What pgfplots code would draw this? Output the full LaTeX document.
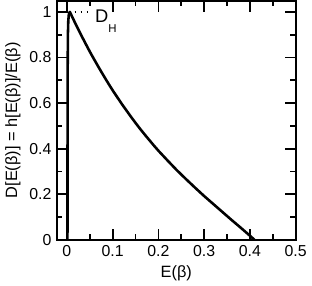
\documentclass[border=0pt]{standalone}
\usepackage{fontspec}
\setmainfont{Liberation Sans}
\usepackage{pgfplots}
\pgfplotsset{compat=1.18}
\begin{document}
\fontsize{16}{19}\selectfont
\begin{tikzpicture}
\begin{axis}[
  scale only axis, width=241pt, height=241pt,
  xmin=-0.022, xmax=0.5, ymin=0, ymax=1.048,
  xtick={0,0.1,0.2,0.3,0.4,0.5},
  ytick={0,0.2,0.4,0.6,0.8,1},
  minor x tick num=1, minor y tick num=1,
  tick align=inside,
  major tick length=11pt, minor tick length=5.5pt,
  axis line style={line width=2pt},
  every tick/.style={line width=1.8pt, black},
  tick label style={font=\fontsize{16}{19}\selectfont},
  /pgf/number format/assume math mode=true,
  xlabel={E(β)}, ylabel={D[E(β)] = h[E(β)]/E(β)},
  label style={font=\fontsize{16.5}{19}\selectfont},
  xlabel style={yshift=2pt},
  ylabel style={yshift=-2pt},
  clip=false,
]
\addplot[black, line width=2.6pt, line join=round] coordinates {
(0.0012,0) (0.0013,0.3) (0.0015,0.6) (0.0018,0.8) (0.0023,0.91) (0.003,0.96)
(0.004,0.985) (0.0052,0.997) (0.0065,1.0) (0.008,0.994) (0.01,0.985)
(0.015,0.964) (0.02,0.943) (0.03,0.903) (0.04,0.864) (0.05,0.826)
(0.06,0.790) (0.07,0.755) (0.08,0.721) (0.09,0.688) (0.10,0.656)
(0.11,0.626) (0.12,0.596) (0.13,0.568) (0.14,0.540) (0.15,0.513)
(0.16,0.487) (0.17,0.462) (0.18,0.438) (0.19,0.414) (0.20,0.391)
(0.22,0.348) (0.24,0.306) (0.26,0.267) (0.28,0.229) (0.30,0.192)
(0.32,0.157) (0.34,0.122) (0.36,0.087) (0.38,0.053) (0.40,0.018) (0.41,0)
};
\addplot[black, line width=1.6pt, dash pattern=on 1.6pt off 4.5pt] coordinates {(0.017,1) (0.045,1)};
\node[anchor=base west, inner sep=0pt, font=\fontsize{18.5}{20}\selectfont] at (axis cs:0.061,0.955) {D\raisebox{-10pt}{\fontsize{11.5}{12}\selectfont H}};
\end{axis}
\end{tikzpicture}
\end{document}
